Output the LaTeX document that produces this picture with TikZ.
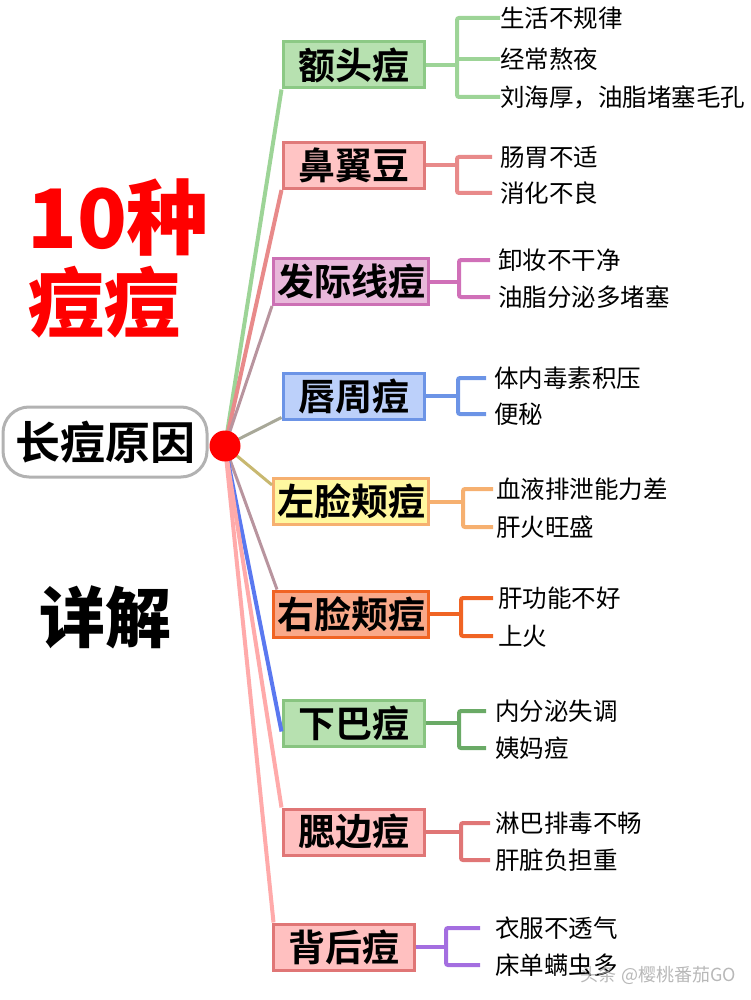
\documentclass[tikz,border=0pt]{standalone}
\usepackage{fontspec}
\setmainfont{Noto Sans CJK SC}
\newfontfamily\cjkbold{Noto Sans CJK SC}[UprightFont=* Bold]
\newfontfamily\cjkblack{Noto Sans CJK SC}[UprightFont=* Black]
\usetikzlibrary{calc}
\definecolor{gA}{HTML}{9DD497}\definecolor{gAf}{HTML}{B7E1B0}\definecolor{gAd}{HTML}{8CC985}
\definecolor{pB}{HTML}{E88A8A}\definecolor{pBf}{HTML}{FFC4C4}\definecolor{pBd}{HTML}{E07A7A}
\definecolor{mC}{HTML}{D070B8}\definecolor{mCf}{HTML}{E8B8DA}\definecolor{mCd}{HTML}{CC70B4}
\definecolor{bD}{HTML}{6C94E6}\definecolor{bDf}{HTML}{BCD0FA}
\definecolor{oE}{HTML}{F6B070}\definecolor{oEf}{HTML}{FFF8A0}
\definecolor{rF}{HTML}{F06424}\definecolor{rFf}{HTML}{F9A98A}
\definecolor{gG}{HTML}{6AAA66}\definecolor{gGd}{HTML}{88C480}
\definecolor{pH}{HTML}{E07676}\definecolor{pHf}{HTML}{FFC0C0}
\definecolor{vI}{HTML}{A46EE0}
\definecolor{hMauve}{HTML}{B8949E}\definecolor{hGray}{HTML}{A8A898}
\definecolor{hOlive}{HTML}{C8B870}\definecolor{hBlue}{HTML}{5A78F0}
\definecolor{hPink}{HTML}{FFAAAA}
\tikzset{
  catbox/.style={draw, line width=3pt, minimum height=46pt, inner sep=0pt,
    font=\cjkbold\fontsize{37}{37}\selectfont},
  wide/.style={minimum width=155pt},
  narrow/.style={minimum width=141pt},
  item/.style={anchor=west, inner sep=0pt, font=\fontsize{24.5}{24.5}\selectfont},
  hubline/.style={line width=4pt},
  brk/.style={line width=4pt, rounded corners=2pt},
}
\begin{document}
\begin{tikzpicture}[x=1pt,y=-1pt]
\useasboundingbox (0,0) rectangle (750,1000);
% titles
\node[font=\cjkblack\fontsize{82}{82}\selectfont, text=red] (t10) at (118,218) {10种};
\node[font=\cjkblack\fontsize{76}{76}\selectfont, text=red] (tdd) at (104,302) {痘痘};
\node[font=\cjkblack\fontsize{66}{66}\selectfont] (txj) at (105,617) {详解};
\node[draw=black!30, line width=3pt, rounded corners=26pt, minimum width=204pt,
  minimum height=70pt, inner sep=0pt, font=\cjkbold\fontsize{45}{45}\selectfont] (root) at (105,442) {长痘原因};
% category boxes
\node[catbox, narrow, fill=gAf, draw=gAd] (b1) at (353.5,65) {额头痘};
\node[catbox, narrow, fill=pBf, draw=pBd] (b2) at (353.5,165.5) {鼻翼豆};
\node[catbox, wide, fill=mCf, draw=mCd] (b3) at (351,281.5) {发际线痘};
\node[catbox, narrow, fill=bDf, draw=bD] (b4) at (353.5,396) {唇周痘};
\node[catbox, wide, fill=oEf, draw=oE] (b5) at (351,501.5) {左脸颊痘};
\node[catbox, wide, fill=rFf, draw=rF] (b6) at (351,614) {右脸颊痘};
\node[catbox, narrow, fill=gAf, draw=gGd] (b7) at (353.5,723) {下巴痘};
\node[catbox, narrow, fill=pHf, draw=pH] (b8) at (353.5,832) {腮边痘};
\node[catbox, narrow, fill=pHf, draw=pH] (b9) at (343.5,947) {背后痘};
% hub lines
\coordinate (hc) at (225,446);
\draw[hubline, gA] (hc) -- (b1.south west);
\draw[hubline, pB] (hc) -- (b2.south west);
\draw[hubline, hMauve, line width=3pt] (hc) -- (b3.south west);
\draw[hubline, hGray, line width=3pt] (hc) -- ([yshift=3pt]b4.south west);
\draw[hubline, hOlive, line width=3pt] (hc) -- ([yshift=-8pt]b5.north west);
\draw[hubline, hMauve, line width=3pt] (hc) -- ([xshift=5pt]b6.north west);
\draw[hubline, hBlue] (hc) -- ([yshift=16pt]b7.south west);
\draw[hubline, hPink] (hc) -- (b8.north west);
\draw[hubline, hPink] (hc) -- ([xshift=2pt]b9.north west);
\node[circle, fill=red, minimum size=31pt, inner sep=0pt] (hub) at (hc) {};
% items
\node[item] (t11) at (500,18) {生活不规律};
\node[item] (t12) at (500,59) {经常熬夜};
\node[item] (t13) at (500,97) {刘海厚，油脂堵塞毛孔};
\node[item] (t21) at (500,157) {肠胃不适};
\node[item] (t22) at (500,193) {消化不良};
\node[item] (t31) at (498,260) {卸妆不干净};
\node[item] (t32) at (498,297) {油脂分泌多堵塞};
\node[item] (t41) at (494,378) {体内毒素积压};
\node[item] (t42) at (494,414) {便秘};
\node[item] (t51) at (496,489) {血液排泄能力差};
\node[item] (t52) at (496,527) {肝火旺盛};
\node[item] (t61) at (498,598) {肝功能不好};
\node[item] (t62) at (498,636) {上火};
\node[item] (t71) at (495,711) {内分泌失调};
\node[item] (t72) at (495,748) {姨妈痘};
\node[item] (t81) at (495,823) {淋巴排毒不畅};
\node[item] (t82) at (495,860) {肝脏负担重};
\node[item] (t91) at (495,928) {衣服不透气};
\node[item] (t92) at (495,965) {床单螨虫多};
% brackets
\coordinate (j1) at (457,65);
\draw[brk, gA] (b1.east) -- (j1);
\draw[brk, gA] (t11.west) -| (j1) |- (t13.west);
\draw[brk, gA] (j1 |- t12.west) -- (t12.west);
\coordinate (j2) at (457,165.5);
\draw[brk, pB] (b2.east) -- (j2);
\draw[brk, pB] ([xshift=-8pt]t21.west) -| (j2) |- ([xshift=-8pt]t22.west);
\coordinate (j3) at (459,281.5);
\draw[brk, mC] (b3.east) -- (j3);
\draw[brk, mC] ([xshift=-8pt]t31.west) -| (j3) |- ([xshift=-8pt]t32.west);
\coordinate (j4) at (458,396);
\draw[brk, bD] (b4.east) -- (j4);
\draw[brk, bD] ([xshift=-8pt]t41.west) -| (j4) |- ([xshift=-8pt]t42.west);
\coordinate (j5) at (463,501.5);
\draw[brk, oE] (b5.east) -- (j5);
\draw[brk, oE] ([xshift=-3pt]t51.west) -| (j5) |- ([xshift=-3pt]t52.west);
\coordinate (j6) at (461,614);
\draw[brk, rF] (b6.east) -- (j6);
\draw[brk, rF] ([xshift=-5pt]t61.west) -| (j6) |- ([xshift=-5pt]t62.west);
\coordinate (j7) at (459,723);
\draw[brk, gG] (b7.east) -- (j7);
\draw[brk, gG] ([xshift=-9pt]t71.west) -| (j7) |- ([xshift=-9pt]t72.west);
\coordinate (j8) at (461,832);
\draw[brk, pH] (b8.east) -- (j8);
\draw[brk, pH] ([xshift=-5pt]t81.west) -| (j8) |- ([xshift=-5pt]t82.west);
\coordinate (j9) at (446,947);
\draw[brk, vI] (b9.east) -- (j9);
\draw[brk, vI] ([xshift=-15pt]t91.west) -| (j9) |- ([xshift=-15pt]t92.west);
% watermark
\node[anchor=east, inner sep=0pt, text=black!35, opacity=0.8, font=\fontsize{18}{18}\selectfont] (wm) at (736,975) {头条 @樱桃番茄GO};
\end{tikzpicture}
\end{document}
